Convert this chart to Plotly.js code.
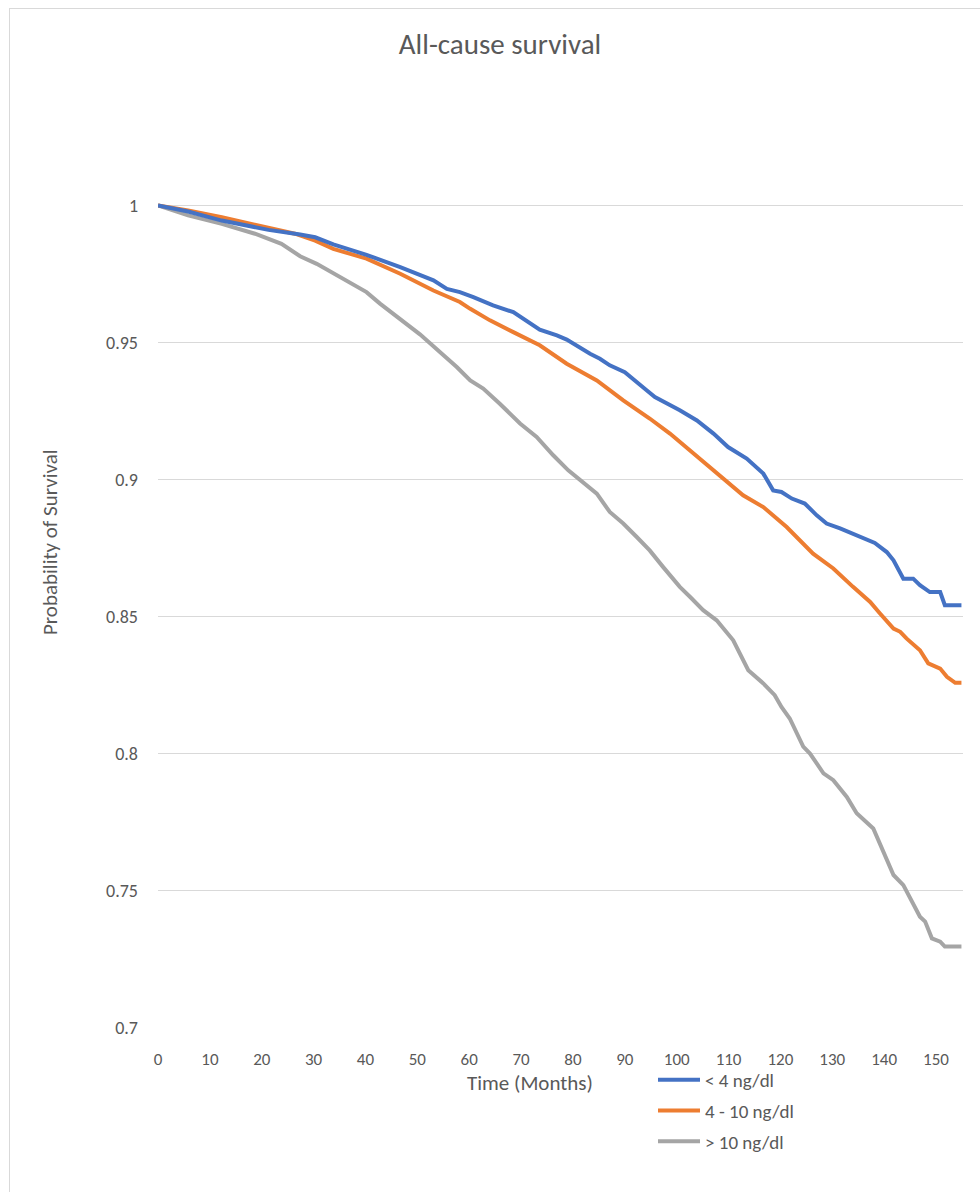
<!DOCTYPE html>
<html>
<head>
<meta charset="utf-8">
<script src="https://cdn.plot.ly/plotly-3.0.1.min.js"></script>
<style>
  html, body { margin: 0; padding: 0; background: #ffffff; overflow: hidden; }
  #wrap { position: relative; width: 980px; height: 1192px; }
  #chart { position: absolute; left: 0; top: 0; width: 980px; height: 1192px; }
  #frame { position: absolute; left: 9px; top: 8px; width: 1000px; height: 1220px;
           border: 1px solid #d9d9d9; pointer-events: none; box-sizing: border-box; }
</style>
</head>
<body>
<div id="wrap"><div id="chart"></div><div id="frame"></div></div>
<script>
// ---- data ----
const chartTitle = "All-cause survival";
const xAxisTitle = "Time (Months)";
const yAxisTitle = "Probability of Survival";
const seriesNames = ["< 4 ng/dl", "4 - 10 ng/dl", "> 10 ng/dl"];

const monthsLow = [0, 5.8, 12.3, 21.3, 27.4, 30.3, 33.8, 40.2, 46.7, 53.1, 55.7, 58.2, 60.8, 64.6, 68.5, 72.4, 73.6, 76.9, 78.8, 83.3, 85.2, 87.1, 90.0, 94.2, 95.8, 100.6, 103.9, 107.1, 109.9, 113.5, 116.7, 118.6, 120.2, 122.2, 124.7, 127.0, 128.9, 131.5, 136.6, 138.2, 140.5, 141.8, 143.7, 145.6, 146.9, 148.8, 150.8, 151.7, 154.9];
const survivalLow = [1.0, 0.9978, 0.9945, 0.9911, 0.9894, 0.9884, 0.9858, 0.9820, 0.9775, 0.9727, 0.9696, 0.9684, 0.9666, 0.9636, 0.9611, 0.9563, 0.9547, 0.9526, 0.9511, 0.9459, 0.9441, 0.9417, 0.9392, 0.9326, 0.9301, 0.9253, 0.9216, 0.9168, 0.9119, 0.9077, 0.9022, 0.8961, 0.8955, 0.8931, 0.8913, 0.8870, 0.8840, 0.8822, 0.8779, 0.8769, 0.8736, 0.8706, 0.8639, 0.8639, 0.8615, 0.8590, 0.8590, 0.8542, 0.8542];

const monthsMid = [0, 5.8, 12.3, 21.3, 26.4, 30.3, 33.8, 40.2, 46.7, 53.1, 58.2, 60.2, 64.0, 68.5, 73.6, 78.8, 84.6, 89.7, 94.8, 98.7, 103.2, 107.7, 112.8, 116.7, 121.2, 126.3, 130.2, 134.0, 137.3, 139.2, 141.8, 143.1, 144.3, 146.9, 148.5, 150.8, 152.1, 153.7, 154.9];
const survivalMid = [1.0, 0.9982, 0.9957, 0.9921, 0.9897, 0.9872, 0.9842, 0.9806, 0.9751, 0.9690, 0.9648, 0.9623, 0.9581, 0.9538, 0.9490, 0.9423, 0.9362, 0.9289, 0.9223, 0.9168, 0.9095, 0.9022, 0.8943, 0.8900, 0.8827, 0.8730, 0.8676, 0.8609, 0.8554, 0.8512, 0.8457, 0.8445, 0.8421, 0.8378, 0.8330, 0.8311, 0.8281, 0.8259, 0.8259];

const monthsHigh = [0, 5.8, 12.3, 18.7, 23.8, 27.4, 30.6, 35.1, 40.2, 42.8, 46.7, 50.5, 54.4, 57.6, 60.2, 62.7, 65.9, 69.8, 73.0, 76.2, 79.1, 82.0, 84.6, 87.1, 89.7, 92.3, 94.8, 97.4, 100.6, 102.6, 105.1, 107.7, 110.9, 113.8, 116.7, 118.9, 120.2, 121.8, 124.4, 125.7, 128.3, 130.2, 132.8, 134.7, 137.9, 141.8, 143.7, 146.9, 147.9, 149.2, 150.8, 151.7, 154.9];
const survivalHigh = [1.0, 0.9964, 0.9933, 0.9897, 0.9860, 0.9815, 0.9787, 0.9739, 0.9684, 0.9642, 0.9587, 0.9530, 0.9465, 0.9411, 0.9362, 0.9332, 0.9277, 0.9205, 0.9156, 0.9089, 0.9034, 0.8991, 0.8949, 0.8882, 0.8840, 0.8791, 0.8742, 0.8681, 0.8609, 0.8572, 0.8524, 0.8487, 0.8414, 0.8305, 0.8257, 0.8214, 0.8171, 0.8129, 0.8026, 0.8001, 0.7929, 0.7904, 0.7843, 0.7783, 0.7728, 0.7558, 0.7521, 0.7406, 0.7388, 0.7327, 0.7315, 0.7297, 0.7297];

const xTickVals = [0, 10, 20, 30, 40, 50, 60, 70, 80, 90, 100, 110, 120, 130, 140, 150];
const yTickVals = [0.7, 0.75, 0.8, 0.85, 0.9, 0.95, 1];
const yTickText = ["0.7", "0.75", "0.8", "0.85", "0.9", "0.95", "1"];

// ---- styling ----
const FONT = "Carlito, Calibri, Lato, 'Open Sans', sans-serif";
const TXT = "#595959";
const colors = ["#4472C4", "#ED7D31", "#A5A5A5"];

const xs = [monthsLow, monthsMid, monthsHigh];
const ys = [survivalLow, survivalMid, survivalHigh];

const traces = seriesNames.map((name, i) => ({
  type: "scatter",
  mode: "lines",
  name: name,
  x: xs[i],
  y: ys[i],
  legendgroup: "g" + i,
  legendrank: 1000 + i,
  line: { color: colors[i], width: 4, shape: "linear" },
  hoverinfo: "x+y+name"
}));
// draw grey first so blue stays on top like the reference
const drawOrder = [traces[2], traces[1], traces[0]];

const layout = {
  width: 980,
  height: 1192,
  paper_bgcolor: "#ffffff",
  plot_bgcolor: "#ffffff",
  font: { family: FONT, color: TXT, size: 18 },
  margin: { l: 158, r: 17, t: 200, b: 164, pad: 0, autoexpand: false },
  title: {
    text: chartTitle,
    font: { family: FONT, size: 29, color: TXT },
    x: 500 / 980, xref: "container", xanchor: "center",
    y: 1 - 44 / 1192, yref: "container", yanchor: "middle"
  },
  showlegend: true,
  legend: {
    traceorder: "grouped",
    x: 653 / 980, xref: "container", xanchor: "left",
    y: 1 - 1061 / 1192, yref: "container", yanchor: "top",
    font: { family: FONT, size: 19, color: TXT },
    tracegroupgap: 3,
    itemwidth: 42,
    bgcolor: "rgba(0,0,0,0)",
    borderwidth: 0
  },
  xaxis: {
    range: [0, 155.2],
    tickvals: xTickVals,
    ticks: "",
    showgrid: false,
    zeroline: false,
    showline: false,
    ticklabelstandoff: 19,
    tickfont: { family: FONT, size: 17, color: TXT },
    fixedrange: true
  },
  yaxis: {
    range: [0.7, 1.002],
    tickvals: yTickVals,
    ticktext: yTickText,
    ticks: "",
    showgrid: true,
    gridcolor: "#d9d9d9",
    gridwidth: 1,
    zeroline: false,
    showline: false,
    ticklabelstandoff: 19,
    tickfont: { family: FONT, size: 18, color: TXT },
    fixedrange: true
  },
  annotations: [
    {
      text: xAxisTitle, showarrow: false,
      xref: "paper", yref: "paper",
      x: (530 - 158) / 805, y: -(1083 - 1028) / 828,
      xanchor: "center", yanchor: "middle",
      font: { family: FONT, size: 21, color: TXT }
    },
    {
      text: yAxisTitle, showarrow: false, textangle: -90,
      xref: "paper", yref: "paper",
      x: -(158 - 50) / 805, y: 1 - (542 - 200) / 828,
      xanchor: "center", yanchor: "middle",
      font: { family: FONT, size: 21, color: TXT }
    }
  ]
};

Plotly.newPlot("chart", drawOrder, layout, { displayModeBar: false, staticPlot: false });
</script>
</body>
</html>
